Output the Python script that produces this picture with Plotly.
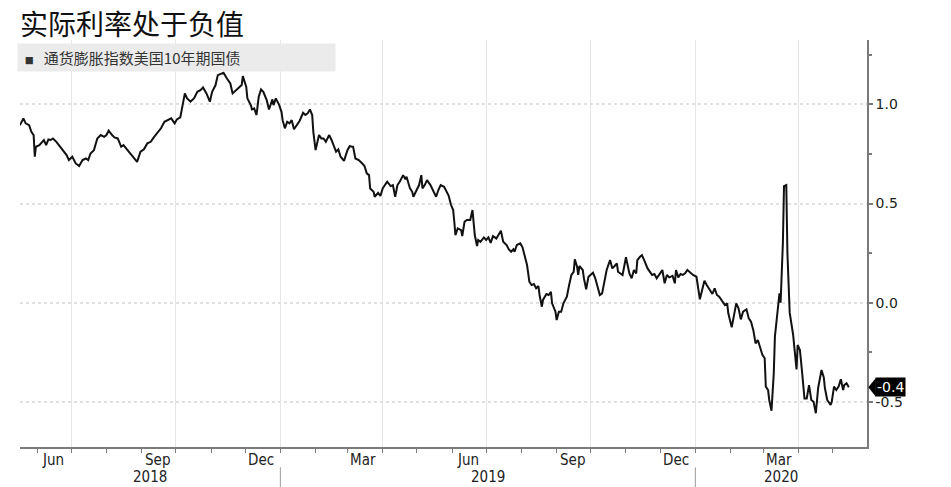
import pandas as pd
import plotly.graph_objects as go

dates = [
    "2018-05-17", "2018-05-20", "2018-05-22", "2018-05-25", "2018-05-27", "2018-05-29", "2018-05-30", "2018-05-31",
    "2018-06-03", "2018-06-06", "2018-06-07", "2018-06-09", "2018-06-11", "2018-06-13", "2018-06-15", "2018-06-18",
    "2018-06-21", "2018-06-23", "2018-06-25", "2018-06-27", "2018-06-29",
    "2018-07-02", "2018-07-05", "2018-07-08", "2018-07-11", "2018-07-14", "2018-07-16", "2018-07-18", "2018-07-21",
    "2018-07-24", "2018-07-27", "2018-07-30",
    "2018-08-01", "2018-08-03", "2018-08-06", "2018-08-08", "2018-08-11", "2018-08-14", "2018-08-16", "2018-08-19",
    "2018-08-22", "2018-08-25", "2018-08-28", "2018-08-31",
    "2018-09-03", "2018-09-06", "2018-09-09", "2018-09-12", "2018-09-15", "2018-09-18", "2018-09-21", "2018-09-24",
    "2018-09-27", "2018-09-30",
    "2018-10-02", "2018-10-05", "2018-10-07", "2018-10-09", "2018-10-11", "2018-10-14", "2018-10-17", "2018-10-20",
    "2018-10-23", "2018-10-25", "2018-10-28", "2018-10-31",
    "2018-11-02", "2018-11-05", "2018-11-07", "2018-11-10", "2018-11-12", "2018-11-15", "2018-11-18", "2018-11-20",
    "2018-11-23", "2018-11-26", "2018-11-28", "2018-11-29",
    "2018-12-02", "2018-12-03", "2018-12-06", "2018-12-07", "2018-12-09", "2018-12-11", "2018-12-13", "2018-12-15",
    "2018-12-17", "2018-12-20", "2018-12-22", "2018-12-25", "2018-12-26", "2018-12-28", "2018-12-31",
    "2019-01-02", "2019-01-03", "2019-01-05", "2019-01-07", "2019-01-09", "2019-01-11", "2019-01-13", "2019-01-16",
    "2019-01-18", "2019-01-21", "2019-01-23", "2019-01-25", "2019-01-27", "2019-01-29", "2019-01-30",
    "2019-02-01", "2019-02-04", "2019-02-06", "2019-02-08", "2019-02-10", "2019-02-13", "2019-02-15", "2019-02-17",
    "2019-02-19", "2019-02-21", "2019-02-23", "2019-02-26",
    "2019-03-01", "2019-03-03", "2019-03-06", "2019-03-08", "2019-03-11", "2019-03-14", "2019-03-16", "2019-03-18",
    "2019-03-20", "2019-03-21", "2019-03-24", "2019-03-25", "2019-03-28", "2019-03-30",
    "2019-04-01", "2019-04-03", "2019-04-05", "2019-04-08", "2019-04-10", "2019-04-12", "2019-04-14", "2019-04-16",
    "2019-04-19", "2019-04-21", "2019-04-22", "2019-04-25", "2019-04-27", "2019-04-28", "2019-04-30",
    "2019-05-03", "2019-05-05", "2019-05-06", "2019-05-08", "2019-05-10", "2019-05-13", "2019-05-16", "2019-05-18",
    "2019-05-20", "2019-05-22", "2019-05-25", "2019-05-27", "2019-05-29", "2019-05-31",
    "2019-06-02", "2019-06-03", "2019-06-04", "2019-06-06", "2019-06-09", "2019-06-10", "2019-06-12", "2019-06-14",
    "2019-06-17", "2019-06-19", "2019-06-20", "2019-06-21", "2019-06-23", "2019-06-24", "2019-06-26", "2019-06-29",
    "2019-07-01", "2019-07-03", "2019-07-05", "2019-07-07", "2019-07-10", "2019-07-12", "2019-07-14", "2019-07-16",
    "2019-07-19", "2019-07-21", "2019-07-23", "2019-07-25", "2019-07-26", "2019-07-28", "2019-07-31",
    "2019-08-02", "2019-08-04", "2019-08-06", "2019-08-08", "2019-08-10", "2019-08-12", "2019-08-14", "2019-08-16",
    "2019-08-17", "2019-08-19", "2019-08-20", "2019-08-23", "2019-08-25", "2019-08-27", "2019-08-28", "2019-08-31",
    "2019-09-01", "2019-09-03", "2019-09-05", "2019-09-07", "2019-09-10", "2019-09-12", "2019-09-14", "2019-09-16",
    "2019-09-17", "2019-09-19", "2019-09-20", "2019-09-21", "2019-09-24", "2019-09-25", "2019-09-27", "2019-09-29",
    "2019-10-01", "2019-10-03", "2019-10-05", "2019-10-07", "2019-10-09", "2019-10-11", "2019-10-13", "2019-10-15",
    "2019-10-18", "2019-10-20", "2019-10-22", "2019-10-24", "2019-10-25", "2019-10-27", "2019-10-29",
    "2019-11-01", "2019-11-03", "2019-11-04", "2019-11-06", "2019-11-08", "2019-11-10", "2019-11-11", "2019-11-13",
    "2019-11-15", "2019-11-17", "2019-11-18", "2019-11-20", "2019-11-23", "2019-11-24", "2019-11-26", "2019-11-28",
    "2019-12-01", "2019-12-03", "2019-12-05", "2019-12-07", "2019-12-09", "2019-12-12", "2019-12-14", "2019-12-15",
    "2019-12-17", "2019-12-19", "2019-12-21", "2019-12-23", "2019-12-25", "2019-12-28", "2019-12-30",
    "2020-01-02", "2020-01-03", "2020-01-05", "2020-01-07", "2020-01-09", "2020-01-11", "2020-01-14", "2020-01-16",
    "2020-01-18", "2020-01-20", "2020-01-22", "2020-01-25", "2020-01-27", "2020-01-29", "2020-01-30",
    "2020-02-02", "2020-02-04", "2020-02-06", "2020-02-08", "2020-02-10", "2020-02-12", "2020-02-15", "2020-02-17",
    "2020-02-19", "2020-02-21", "2020-02-23", "2020-02-25", "2020-02-27", "2020-02-29",
    "2020-03-02", "2020-03-03", "2020-03-05", "2020-03-06", "2020-03-08", "2020-03-10", "2020-03-11", "2020-03-13",
    "2020-03-15", "2020-03-16", "2020-03-18", "2020-03-19", "2020-03-21", "2020-03-22", "2020-03-24", "2020-03-27",
    "2020-03-28", "2020-03-30", "2020-03-31",
    "2020-04-02", "2020-04-04", "2020-04-06", "2020-04-08", "2020-04-10", "2020-04-12", "2020-04-14", "2020-04-16",
    "2020-04-18", "2020-04-21", "2020-04-23", "2020-04-24", "2020-04-26", "2020-04-29", "2020-04-30",
    "2020-05-02", "2020-05-04", "2020-05-06", "2020-05-08", "2020-05-10", "2020-05-11", "2020-05-13", "2020-05-15",
]

real_yield = [
    0.895, 0.929, 0.904, 0.895, 0.861, 0.845, 0.736, 0.786,
    0.794, 0.811, 0.820, 0.794, 0.823, 0.820, 0.828, 0.811,
    0.789, 0.778, 0.761, 0.744, 0.719,
    0.736, 0.702, 0.689, 0.719, 0.727, 0.719, 0.752, 0.769,
    0.828, 0.845, 0.836,
    0.845, 0.867, 0.845, 0.833, 0.828, 0.786, 0.794, 0.773,
    0.752, 0.736, 0.710, 0.761,
    0.773, 0.803, 0.811, 0.836, 0.856, 0.879, 0.912, 0.920,
    0.929, 0.904,
    0.924, 0.934, 1.005, 1.055, 1.030, 1.013, 1.030, 1.063,
    1.072, 1.085, 1.055, 1.013,
    1.063, 1.097, 1.147, 1.156, 1.159, 1.130, 1.105, 1.055,
    1.072, 1.088, 1.097, 1.142,
    1.088, 1.030, 0.996, 0.974, 0.979, 0.946, 1.038, 1.075,
    1.063, 1.021, 0.974, 1.025, 0.996, 1.030, 0.996,
    0.962, 0.920, 0.879, 0.912, 0.904, 0.920, 0.874, 0.904,
    0.917, 0.957, 0.946, 0.954, 0.974, 0.946, 0.861,
    0.769, 0.845, 0.828, 0.828, 0.811, 0.845, 0.820, 0.794,
    0.761, 0.773, 0.736, 0.715,
    0.769, 0.789, 0.786, 0.727, 0.719, 0.702, 0.689, 0.652,
    0.643, 0.576, 0.559, 0.534, 0.554, 0.538,
    0.576, 0.593, 0.610, 0.588, 0.593, 0.534, 0.593, 0.610,
    0.643, 0.622, 0.635, 0.576, 0.559, 0.534, 0.559,
    0.593, 0.643, 0.576, 0.593, 0.618, 0.593, 0.559, 0.534,
    0.568, 0.593, 0.584, 0.559, 0.540, 0.495,
    0.467, 0.408, 0.341, 0.375, 0.366, 0.336, 0.408, 0.417,
    0.417, 0.467, 0.408, 0.341, 0.286, 0.316, 0.307, 0.329,
    0.316, 0.329, 0.302, 0.336, 0.324, 0.341, 0.363, 0.307,
    0.291, 0.269, 0.257, 0.269, 0.257, 0.291, 0.299,
    0.279, 0.232, 0.190, 0.106, 0.089, 0.094, 0.073, 0.084,
    0.039, -0.020, 0.014, 0.044, 0.039, 0.055, -0.003, -0.045,
    -0.087, -0.045, -0.045, -0.003, 0.030, 0.089, 0.140, 0.156,
    0.219, 0.181, 0.140, 0.185, 0.165, 0.123, 0.068, 0.131,
    0.140, 0.151, 0.123, 0.081, 0.039, 0.047, 0.098, 0.165,
    0.215, 0.173, 0.185, 0.198, 0.156, 0.148, 0.140,
    0.229, 0.181, 0.148, 0.123, 0.165, 0.148, 0.215, 0.229,
    0.240, 0.215, 0.198, 0.173, 0.148, 0.140, 0.145, 0.123,
    0.148, 0.165, 0.098, 0.140, 0.128, 0.135, 0.098, 0.165,
    0.128, 0.145, 0.140, 0.148, 0.165, 0.148, 0.140,
    0.131, 0.089, 0.017, 0.064, 0.111, 0.089, 0.060, 0.044,
    0.073, 0.039, 0.030, 0.005, -0.012, -0.003, -0.053,
    -0.124, -0.053, -0.003, -0.028, -0.084, -0.045, -0.033, -0.079,
    -0.096, -0.138, -0.205, -0.188, -0.230, -0.263,
    -0.280, -0.423, -0.440, -0.490, -0.544, -0.356, -0.171, -0.053,
    0.047, 0.000, 0.299, 0.588, 0.593, 0.250, -0.050, -0.160,
    -0.222, -0.336, -0.213,
    -0.238, -0.356, -0.482, -0.482, -0.415, -0.490, -0.499, -0.557,
    -0.431, -0.339, -0.376, -0.431, -0.490, -0.515, -0.499,
    -0.423, -0.440, -0.423, -0.386, -0.440, -0.415, -0.406, -0.426,
]

title = "实际利率处于负值"
series_name = "通货膨胀指数美国10年期国债"

# axis stuff
x_range = ["2018-05-17", "2020-05-31"]
y_range = [-0.727, 1.324]
y_ticks = [-0.5, 0.0, 0.5, 1.0]
y_minor = [-0.75, -0.25, 0.25, 0.75, 1.25]
quarter_starts = ["2018-07-01", "2018-10-01", "2019-01-01", "2019-04-01",
                  "2019-07-01", "2019-10-01", "2020-01-01", "2020-04-01"]
month_label_dates = ["2018-06-15", "2018-09-15", "2018-12-15", "2019-03-15",
                     "2019-06-15", "2019-09-15", "2019-12-15", "2020-03-15"]
month_labels = ["Jun", "Sep", "Dec", "Mar", "Jun", "Sep", "Dec", "Mar"]
years = [2018, 2019, 2020]

axis_grey = "#7a7a7a"
label_font = "DejaVu Sans Condensed, Liberation Sans Narrow, sans-serif"
cjk_font = "Noto Sans CJK SC, sans-serif"

fig = go.Figure()
fig.add_trace(go.Scatter(x=pd.to_datetime(dates), y=real_yield, mode="lines",
                         line=dict(color="#111111", width=2), name=series_name,
                         showlegend=False))

annotations = []
shapes = []

# legend box
annotations.append(dict(
    xref="paper", yref="paper", x=-0.003, y=0.993, xanchor="left", yanchor="top",
    text="  <span style='font-size:9px'>■</span>   " + series_name,
    font=dict(family=cjk_font, size=15, color="#333333"),
    showarrow=False, align="left", width=317, height=27,
    bgcolor="#ebebeb", borderpad=0))

# month labels + year labels under the axis
for d, t in zip(month_label_dates, month_labels):
    annotations.append(dict(xref="x", yref="paper", x=d, y=0, yanchor="top",
                            yshift=-2, text=t, showarrow=False,
                            font=dict(family=label_font, size=15, color="#222222")))

x0 = pd.Timestamp(x_range[0])
x1 = pd.Timestamp(x_range[1])
for yr in years:
    a = max(x0, pd.Timestamp(f"{yr}-01-01"))
    b = min(x1, pd.Timestamp(f"{yr + 1}-01-01"))
    annotations.append(dict(xref="x", yref="paper", x=a + (b - a) / 2, y=0,
                            yanchor="top", yshift=-19, text=str(yr), showarrow=False,
                            font=dict(family=label_font, size=15, color="#222222")))
    if yr > years[0]:
        shapes.append(dict(type="line", xref="x", yref="paper",
                           x0=f"{yr}-01-01", x1=f"{yr}-01-01", y0=-0.05, y1=-0.11,
                           line=dict(color="#9a9a9a", width=1)))

# last value tag on right axis
last = real_yield[-1]
annotations.append(dict(xref="paper", yref="y", x=1, y=last, xanchor="left",
                        xshift=8, text=f"{last:.1f}", showarrow=False,
                        bgcolor="#000000", borderpad=1,
                        font=dict(family="DejaVu Sans, sans-serif", size=14, color="#ffffff")))
yp = (last - y_range[0]) / (y_range[1] - y_range[0])
shapes.append(dict(type="path", xref="paper", yref="paper",
                   path=f"M 1.0015,{yp} L 1.0105,{yp + 0.023} L 1.0105,{yp - 0.023} Z",
                   fillcolor="#000000", line=dict(width=0)))

fig.update_layout(
    width=951, height=487,
    margin=dict(l=20, r=84, t=40, b=40),
    paper_bgcolor="white", plot_bgcolor="white",
    title=dict(text=title, x=0.021, xanchor="left", y=0.949, yanchor="middle",
               font=dict(family=cjk_font, size=28, color="#111111")),
    annotations=annotations, shapes=shapes,
    xaxis=dict(type="date", range=x_range, tickmode="array", tickvals=quarter_starts,
               showticklabels=False, ticks="outside", ticklen=4, tickcolor=axis_grey,
               showgrid=True, gridcolor="#e6e6e6", gridwidth=1,
               showline=True, linecolor=axis_grey, linewidth=1.5, zeroline=False,
               minor=dict(dtick="M1", tick0="2018-01-01", ticks="outside", ticklen=4,
                          tickcolor=axis_grey, showgrid=False)),
    yaxis=dict(side="right", range=y_range, tickmode="array", tickvals=y_ticks,
               ticktext=[f"{v:.1f}" for v in y_ticks],
               ticks="outside", ticklen=4, tickcolor=axis_grey, tickwidth=1.5,
               tickfont=dict(family="DejaVu Sans, sans-serif", size=14, color="#222222"),
               showgrid=True, gridcolor="#e0e0e0", griddash="dot", gridwidth=1.5,
               showline=True, linecolor=axis_grey, linewidth=1.5, zeroline=False,
               minor=dict(tickmode="array", tickvals=y_minor, ticks="outside", ticklen=3,
                          tickcolor=axis_grey, showgrid=False)),
)

# drop the page's default 8px body margin so the figure fills the window
fig.write_html("out.html", config={"displayModeBar": False},
               post_script="document.body.style.margin = '0';")
